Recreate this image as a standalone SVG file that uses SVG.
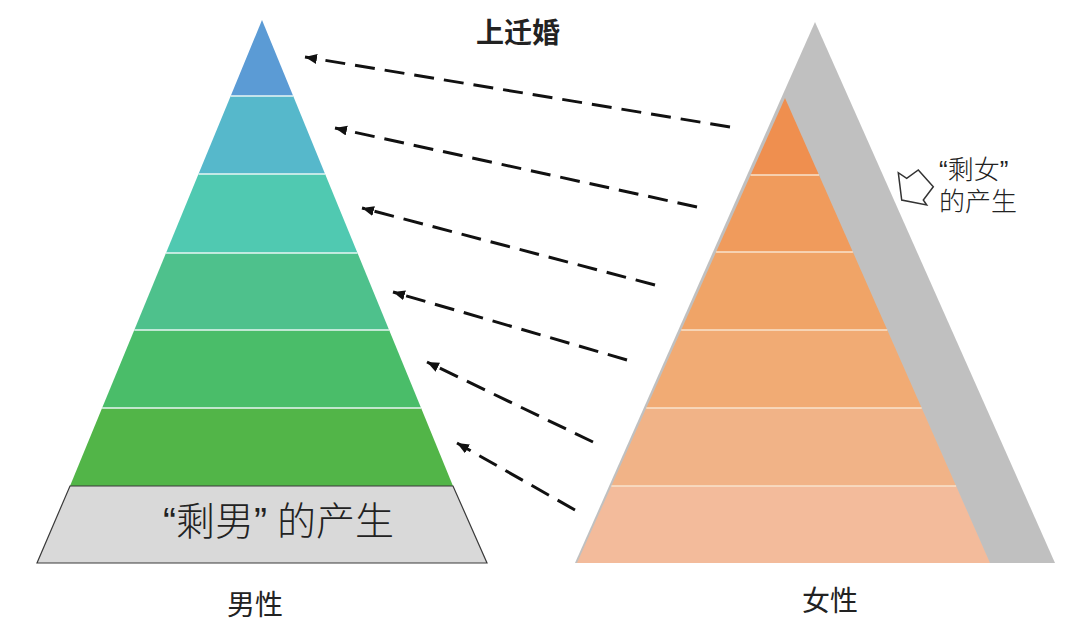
<svg xmlns="http://www.w3.org/2000/svg" width="1080" height="630" viewBox="0 0 1080 630">
<defs>
<style>
.t{font-family:"Noto Sans CJK SC","Noto Sans",sans-serif;fill:#222}
.q{font-family:"Liberation Sans",Arial,sans-serif}
.sepW{stroke:#e8f6f4;stroke-width:1.5}
.sepO{stroke:#f9e3cc;stroke-width:1.5}
.dash{fill:none;stroke:#111;stroke-width:3;stroke-dasharray:20 10}
</style>
<marker id="ah" markerUnits="userSpaceOnUse" markerWidth="14" markerHeight="12" refX="12" refY="5" orient="auto">
<path d="M0,0 L12,5 L0,10 z" fill="#111"/>
</marker>
</defs>
<rect width="1080" height="630" fill="#ffffff"/>

<g id="male-pyramid">
<polygon points="262,20 293.2,96 230.7,96" fill="#5b9bd5"/>
<polygon points="230.7,96 293.2,96 325.1,174 198.5,174" fill="#56b8cb"/>
<polygon points="198.5,174 325.1,174 357.5,253 166,253" fill="#50c9b1"/>
<polygon points="166,253 357.5,253 389.1,330 134.3,330" fill="#4ec18c"/>
<polygon points="134.3,330 389.1,330 421.1,408 102.1,408" fill="#4abd69"/>
<polygon points="102.1,408 421.1,408 453,486 70,486" fill="#52b548"/>
<line class="sepW" x1="230.7" y1="96" x2="293.2" y2="96"/>
<line class="sepW" x1="198.5" y1="174" x2="325.1" y2="174"/>
<line class="sepW" x1="166" y1="253" x2="357.5" y2="253"/>
<line class="sepW" x1="134.3" y1="330" x2="389.1" y2="330"/>
<line class="sepW" x1="102.1" y1="408" x2="421.1" y2="408"/>
</g>

<g id="leftover-men">
<polygon points="70,486 453,486 487,563 37,563" fill="#d9d9d9" stroke="#3a3a3a" stroke-width="1.2"/>
<text class="t" x="163" y="535" font-size="39" font-weight="300" fill="#333"><tspan class="q">“</tspan>剩男<tspan class="q">”</tspan><tspan dx="10">的产生</tspan></text>
</g>

<g id="female-pyramid">
<polygon points="815,22 1055,563 575,563" fill="#c0c0c0"/>
<polygon points="785,98 819,175 750.6,175" fill="#ef8f4f"/>
<polygon points="750.6,175 819,175 852.9,252 716.1,252" fill="#f09b5c"/>
<polygon points="716.1,252 852.9,252 887.3,330 681.2,330" fill="#f0a467"/>
<polygon points="681.2,330 887.3,330 921.7,408 646.3,408" fill="#f1ab74"/>
<polygon points="646.3,408 921.7,408 956.1,486 611.4,486" fill="#f1b387"/>
<polygon points="611.4,486 956.1,486 990,563 577,563" fill="#f3bb9b"/>
<line class="sepO" x1="750.6" y1="175" x2="819" y2="175"/>
<line class="sepO" x1="716.1" y1="252" x2="852.9" y2="252"/>
<line class="sepO" x1="681.2" y1="330" x2="887.3" y2="330"/>
<line class="sepO" x1="646.3" y1="408" x2="921.7" y2="408"/>
<line class="sepO" x1="611.4" y1="486" x2="956.1" y2="486"/>
</g>

<g id="leftover-women">
<polygon points="901.7,200 898.3,172.7 906.7,178.3 918.3,170 933.3,186.7 923.3,200 926.7,205" fill="#ffffff" stroke="#333" stroke-width="1.5" stroke-linejoin="miter"/>
<text class="t" font-size="26" font-weight="300"><tspan x="939" y="179"><tspan class="q">“</tspan>剩女<tspan class="q">”</tspan></tspan><tspan x="939" y="211">的产生</tspan></text>
</g>

<g id="connectors">
<line class="dash" x1="730" y1="127" x2="305" y2="57" marker-end="url(#ah)"/>
<line class="dash" x1="697" y1="207" x2="335" y2="128" marker-end="url(#ah)"/>
<line class="dash" x1="655" y1="285" x2="362" y2="208" marker-end="url(#ah)"/>
<line class="dash" x1="627" y1="360" x2="393" y2="292" marker-end="url(#ah)"/>
<line class="dash" x1="593" y1="442" x2="427" y2="362" marker-end="url(#ah)"/>
<line class="dash" x1="575" y1="510" x2="457" y2="443" marker-end="url(#ah)"/>
</g>

<g id="labels">
<text class="t" x="518" y="43" font-size="28" font-weight="700" text-anchor="middle">上迁婚</text>
<text class="t" x="255" y="615" font-size="28" text-anchor="middle">男性</text>
<text class="t" x="830" y="611" font-size="28" text-anchor="middle">女性</text>
</g>
</svg>
